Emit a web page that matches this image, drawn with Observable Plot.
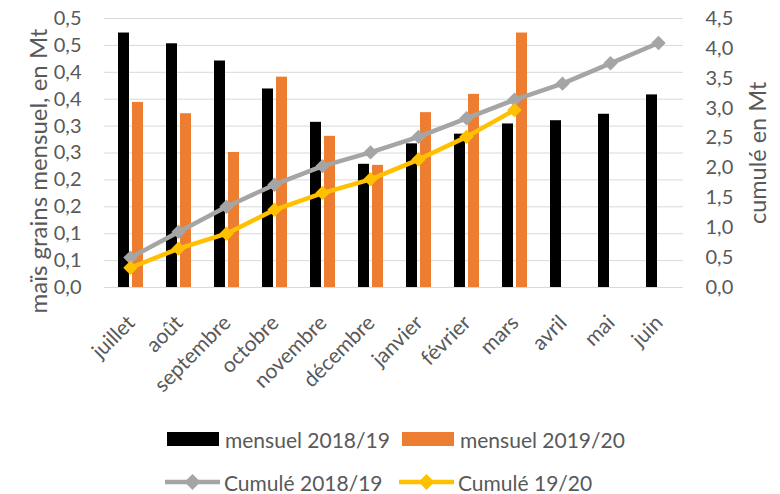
<!DOCTYPE html>
<html>
<head>
<meta charset="utf-8">
<script src="https://cdn.jsdelivr.net/npm/d3@7"></script>
<script src="https://cdn.jsdelivr.net/npm/@observablehq/plot@0.6"></script>
<style>
  body { margin: 0; background: white; font-family: Lato, "Open Sans", sans-serif; color: #595959; }
  #chart { width: 780px; height: 494px; position: relative; overflow: hidden; }
  .legend { position: absolute; left: 0; width: 780px; font-size: 21px; color: #595959; }
  .item { position: absolute; display: flex; align-items: center; white-space: nowrap; }
</style>
</head>
<body>
<div id="chart"></div>
<script>
const months = ["juillet","août","septembre","octobre","novembre","décembre","janvier","février","mars","avril","mai","juin"];
const mensuel1819 = [0.473,0.453,0.421,0.369,0.307,0.229,0.267,0.285,0.304,0.310,0.322,0.358];
const mensuel1920 = [0.344,0.323,0.251,0.391,0.281,0.227,0.325,0.359,0.473];
const cumul1819 = [0.50,0.93,1.35,1.72,2.03,2.26,2.52,2.83,3.14,3.41,3.75,4.09];
const cumul1920 = [0.33,0.65,0.90,1.30,1.58,1.81,2.14,2.52,2.97];
const leftTicks = [0,0.05,0.10,0.15,0.20,0.25,0.30,0.35,0.40,0.45,0.50];
const leftTickLabels = ["0,0","0,1","0,1","0,2","0,2","0,3","0,3","0,4","0,4","0,5","0,5"];
const rightTicks = [0,0.5,1.0,1.5,2.0,2.5,3.0,3.5,4.0,4.5];
const rightTickLabels = ["0,0","0,5","1,0","1,5","2,0","2,5","3,0","3,5","4,0","4,5"];
const seriesNames = ["mensuel 2018/19","mensuel 2019/20","Cumulé 2018/19","Cumulé 19/20"];
const colors = ["#000000","#ed7d31","#a5a5a5","#ffc000"];
const ratio = 0.5 / 4.5; // right axis -> left axis
const textColor = "#595959";

const plot = Plot.plot({
  width: 780,
  height: 402,
  marginLeft: 104,
  marginRight: 97,
  marginTop: 18,
  marginBottom: 115,
  style: { fontFamily: "Lato, 'Open Sans', sans-serif", fontSize: "20px", color: textColor, background: "white", overflow: "visible" },
  x: { type: "band", domain: months, padding: 0, axis: null },
  y: { domain: [0, 0.5], axis: null },
  marks: [
    Plot.ruleY(leftTicks, { stroke: "#d9d9d9", strokeWidth: 1 }),
    Plot.barY(mensuel1819, { x: (d, i) => months[i], y: d => d, fill: colors[0], insetLeft: 12, insetRight: 25 }),
    Plot.barY(mensuel1920, { x: (d, i) => months[i], y: d => d, fill: colors[1], insetLeft: 26, insetRight: 11 }),
    Plot.line(cumul1819, { x: (d, i) => months[i], y: d => d * ratio, stroke: colors[2], strokeWidth: 4.5 }),
    Plot.dot(cumul1819, { x: (d, i) => months[i], y: d => d * ratio, fill: colors[2], symbol: "diamond2", r: 6.5 }),
    Plot.line(cumul1920, { x: (d, i) => months[i], y: d => d * ratio, stroke: colors[3], strokeWidth: 4.5 }),
    Plot.dot(cumul1920, { x: (d, i) => months[i], y: d => d * ratio, fill: colors[3], symbol: "diamond2", r: 6.5 }),
    // left tick labels
    Plot.text(leftTicks, { y: d => d, text: (d, i) => leftTickLabels[i], frameAnchor: "left", dx: -23, textAnchor: "end", fontSize: 20, fill: textColor }),
    // right tick labels
    Plot.text(rightTicks, { y: d => d * ratio, text: (d, i) => rightTickLabels[i], frameAnchor: "right", dx: 22, textAnchor: "start", fontSize: 20, fill: textColor }),
    // x tick labels
    Plot.text(months, { x: d => d, text: d => d, frameAnchor: "bottom", dx: -5, dy: 26, rotate: -45, textAnchor: "end", lineAnchor: "top", fontSize: 21, fill: textColor }),
    Plot.text(["maïs grains mensuel, en Mt"], { frameAnchor: "left", dx: -65, dy: 18, rotate: -90, fontSize: 24, fill: textColor, textAnchor: "middle" }),
    Plot.text(["cumulé en Mt"], { frameAnchor: "right", dx: 75, rotate: -90, fontSize: 23.5, fill: textColor, textAnchor: "middle" })
  ]
});
const chart = document.getElementById("chart");
chart.appendChild(plot);

const legend = document.createElement("div");
legend.className = "legend";
legend.style.top = "402px";
legend.style.height = "92px";
const items = [
  { x: 167, y: 37, type: "rect" },
  { x: 402, y: 37, type: "rect" },
  { x: 165, y: 80, type: "line" },
  { x: 399, y: 80, type: "line" }
];
items.forEach((it, i) => {
  const div = document.createElement("div");
  div.className = "item";
  div.style.left = it.x + "px";
  div.style.top = (it.y - 13) + "px";
  div.style.height = "26px";
  let sw;
  if (it.type === "rect") {
    sw = `<svg width="58" height="26"><rect x="0" y="6" width="52" height="14" fill="${colors[i]}"/></svg>`;
  } else {
    sw = `<svg width="59" height="26"><line x1="0" x2="55" y1="13" y2="13" stroke="${colors[i]}" stroke-width="4.5"/><path d="M27.5 5 L35.5 13 L27.5 21 L19.5 13 Z" fill="${colors[i]}"/></svg>`;
  }
  div.innerHTML = sw + `<span>${seriesNames[i]}</span>`;
  legend.appendChild(div);
});
chart.appendChild(legend);
</script>
</body>
</html>
